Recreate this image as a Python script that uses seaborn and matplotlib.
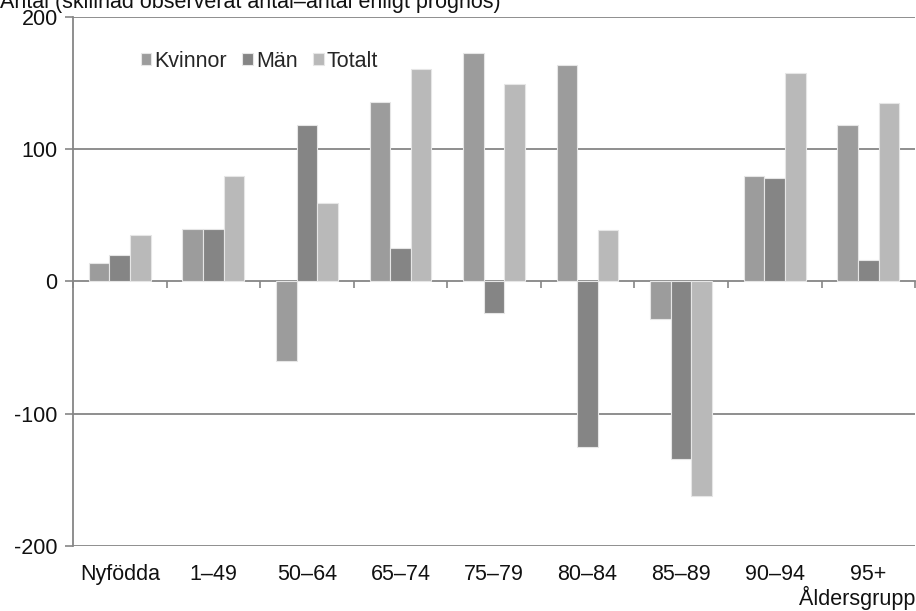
import pandas as pd
import matplotlib
matplotlib.use("Agg")
import matplotlib.pyplot as plt
import seaborn as sns

# --- Data ---
aldersgrupper = ["Nyfödda", "1–49", "50–64", "65–74", "75–79", "80–84", "85–89", "90–94", "95+"]
kvinnor = [14, 40, -60, 136, 173, 164, -28, 80, 118]
man = [20, 40, 118, 25, -24, -125, -134, 78, 16]
totalt = [35, 80, 59, 161, 149, 39, -162, 158, 135]

serier = ["Kvinnor", "Män", "Totalt"]
farger = ["#9c9c9c", "#858585", "#b9b9b9"]
yticks = [-200, -100, 0, 100, 200]

df = pd.DataFrame({
    "grupp": aldersgrupper * 3,
    "serie": [s for s in serier for _ in aldersgrupper],
    "antal": kvinnor + man + totalt,
})

sns.set_theme(style="white")
plt.rcParams["font.family"] = ["Liberation Sans", "DejaVu Sans"]
FS = 15.5
TXT = "#111111"

fig = plt.figure(figsize=(9.16, 6.11), dpi=100)
ax = fig.add_axes([0.0797, 0.1064, 0.9193, 0.8658])

sns.barplot(data=df, x="grupp", y="antal", hue="serie", order=aldersgrupper,
            hue_order=serier, palette=farger, width=0.66, ax=ax,
            edgecolor="#e6e6e6", linewidth=0.8, saturation=1, errorbar=None)

grid_col = "#868686"
ax.set_ylim(-200, 200)
ax.set_xlim(-0.5, len(aldersgrupper) - 0.5)
ax.set_yticks(yticks)
ax.set_yticklabels([str(v) for v in yticks], fontsize=FS, color=TXT)
for v in yticks:
    if v != 0:
        ax.axhline(v, color=grid_col, lw=1.3, zorder=0)
ax.tick_params(axis="y", which="major", direction="out", length=6, width=1.2,
               color=grid_col, left=True, pad=5)
ax.tick_params(axis="x", length=0, labelsize=FS, labelcolor=TXT, pad=13)

for side in ["top", "right", "bottom"]:
    ax.spines[side].set_visible(False)
ax.spines["left"].set_color(grid_col)
ax.spines["left"].set_linewidth(1.3)

# nollinje med skiljestreck mellan grupperna
sec = ax.secondary_xaxis(0, transform=ax.transData)
sec.set_xticks([i - 0.5 for i in range(len(aldersgrupper) + 1)])
sec.set_xticklabels([])
sec.tick_params(direction="out", length=5, width=1.2, color=grid_col)
sec.spines["bottom"].set_color(grid_col)
sec.spines["bottom"].set_linewidth(1.3)

ax.set_xlabel("")
ax.set_ylabel("")
fig.text(0.999, 0.002, "Åldersgrupp", fontsize=FS, color=TXT, ha="right", va="bottom")
fig.text(0.0, 0.996, "Antal (skillnad observerat antal–antal enligt prognos)",
         fontsize=FS, color=TXT, ha="left", va="center")

ax.legend(loc="upper left", bbox_to_anchor=(0.07, 0.952), ncol=3, frameon=False,
          fontsize=FS, handlelength=0.5, handleheight=0.5, handletextpad=0.15,
          columnspacing=0.7, borderaxespad=0)

fig.savefig("out.png", dpi=100)
